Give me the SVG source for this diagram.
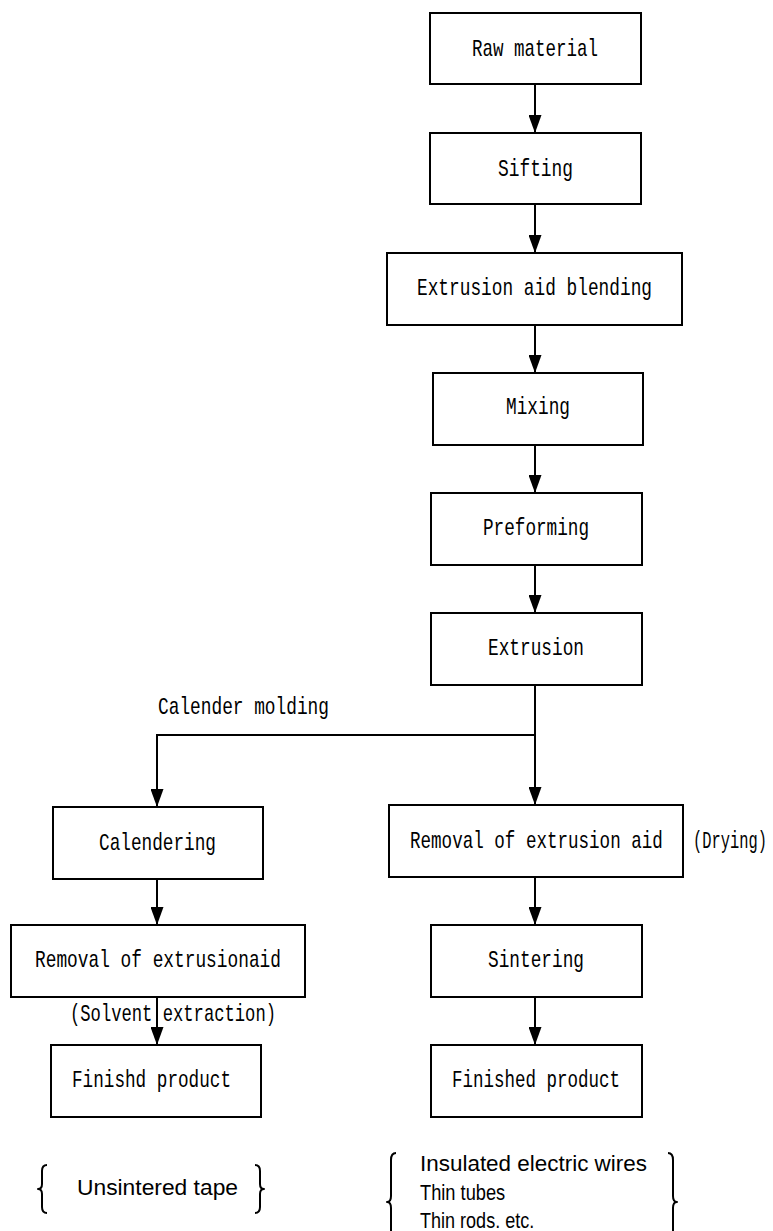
<svg xmlns="http://www.w3.org/2000/svg" width="773" height="1231" viewBox="0 0 773 1231">
<style>
.box{fill:#fff;stroke:#000;stroke-width:2}
.t{font-family:"Liberation Mono","DejaVu Sans Mono",monospace;font-size:24px;fill:#000}
.p{font-family:"Liberation Sans","DejaVu Sans",sans-serif;font-size:22px;fill:#000}
.c{fill:none;stroke:#000;stroke-width:2}
.br{fill:none;stroke:#000;stroke-width:2;stroke-linejoin:round}
</style>
<defs>
<marker id="arr" viewBox="0 0 18 13" refX="18" refY="6.5" markerWidth="18" markerHeight="13" markerUnits="userSpaceOnUse" orient="auto">
<path d="M0,0 L18,6.5 L0,13 z" fill="#000"/>
</marker>
</defs>
<rect width="773" height="1231" fill="#fff"/>
<g id="connectors">
<line class="c" x1="535" y1="84" x2="535" y2="133" marker-end="url(#arr)"/>
<line class="c" x1="535" y1="204" x2="535" y2="253" marker-end="url(#arr)"/>
<line class="c" x1="535" y1="325" x2="535" y2="373" marker-end="url(#arr)"/>
<line class="c" x1="535" y1="445" x2="535" y2="493" marker-end="url(#arr)"/>
<line class="c" x1="535" y1="565" x2="535" y2="613" marker-end="url(#arr)"/>
<line class="c" x1="535" y1="685" x2="535" y2="805" marker-end="url(#arr)"/>
<polyline class="c" points="535,735 157,735 157,807" marker-end="url(#arr)"/>
<line class="c" x1="157" y1="879" x2="157" y2="925" marker-end="url(#arr)"/>
<line class="c" x1="157" y1="997" x2="157" y2="1045" marker-end="url(#arr)"/>
<line class="c" x1="535" y1="877" x2="535" y2="925" marker-end="url(#arr)"/>
<line class="c" x1="535" y1="997" x2="535" y2="1045" marker-end="url(#arr)"/>
</g>
<g id="raw"><rect class="box" x="430" y="13" width="211" height="71"/><text class="t" x="472" y="56" textLength="126" lengthAdjust="spacingAndGlyphs">Raw material</text></g>
<g id="sifting"><rect class="box" x="430" y="133" width="211" height="71"/><text class="t" x="498" y="176" textLength="75" lengthAdjust="spacingAndGlyphs">Sifting</text></g>
<g id="blending"><rect class="box" x="387" y="253" width="295" height="72"/><text class="t" x="417" y="295" textLength="235" lengthAdjust="spacingAndGlyphs">Extrusion aid blending</text></g>
<g id="mixing"><rect class="box" x="433" y="373" width="210" height="72"/><text class="t" x="506" y="414" textLength="64" lengthAdjust="spacingAndGlyphs">Mixing</text></g>
<g id="preforming"><rect class="box" x="431" y="493" width="211" height="72"/><text class="t" x="483" y="535" textLength="106" lengthAdjust="spacingAndGlyphs">Preforming</text></g>
<g id="extrusion"><rect class="box" x="431" y="613" width="211" height="72"/><text class="t" x="488" y="655" textLength="96" lengthAdjust="spacingAndGlyphs">Extrusion</text></g>
<g id="calender-label"><text class="t" x="158" y="714" textLength="171" lengthAdjust="spacingAndGlyphs">Calender molding</text></g>
<g id="calendering"><rect class="box" x="53" y="807" width="210" height="72"/><text class="t" x="99" y="850" textLength="117" lengthAdjust="spacingAndGlyphs">Calendering</text></g>
<g id="removal-left"><rect class="box" x="11" y="925" width="294" height="72"/><text class="t" x="35" y="967" textLength="246" lengthAdjust="spacingAndGlyphs">Removal of extrusionaid</text></g>
<g id="solvent"><text class="t" x="70" y="1021" textLength="206" lengthAdjust="spacingAndGlyphs">(Solvent extraction)</text></g>
<g id="finishd"><rect class="box" x="51" y="1045" width="210" height="72"/><text class="t" x="72" y="1087" textLength="159" lengthAdjust="spacingAndGlyphs">Finishd product</text></g>
<g id="removal-right"><rect class="box" x="389" y="805" width="294" height="72"/><text class="t" transform="translate(410,848) scale(0.732,1)" x="0" y="0">Removal of extrusion aid</text></g>
<g id="drying"><text class="t" transform="translate(693,848) scale(0.642,1)" x="0" y="0">(Drying)</text></g>
<g id="sintering"><rect class="box" x="431" y="925" width="211" height="72"/><text class="t" x="488" y="967" textLength="96" lengthAdjust="spacingAndGlyphs">Sintering</text></g>
<g id="finished"><rect class="box" x="431" y="1045" width="211" height="72"/><text class="t" x="452" y="1087" textLength="168" lengthAdjust="spacingAndGlyphs">Finished product</text></g>
<g id="unsintered">
<path class="br" d="M47,1165 Q42,1165 42,1171 L42,1184 Q42,1189 38,1189 Q42,1189 42,1194 L42,1207 Q42,1213 47,1213"/>
<text class="p" x="77" y="1195" textLength="161" lengthAdjust="spacingAndGlyphs">Unsintered tape</text>
<path class="br" d="M255,1165 Q260,1165 260,1171 L260,1184 Q260,1189 264,1189 Q260,1189 260,1194 L260,1207 Q260,1213 255,1213"/>
</g>
<g id="products">
<path class="br" d="M396,1153 Q391,1153 391,1160 L391,1196 Q391,1202 387,1202 Q391,1202 391,1208 L391,1245"/>
<text class="p" x="420" y="1171" textLength="227" lengthAdjust="spacingAndGlyphs">Insulated electric wires</text>
<text class="p" transform="translate(420,1200) scale(0.83,1)" x="0" y="0">Thin tubes</text>
<text class="p" transform="translate(420,1228) scale(0.82,1)" x="0" y="0">Thin rods. etc.</text>
<path class="br" d="M668,1153 Q673,1153 673,1160 L673,1196 Q673,1202 677,1202 Q673,1202 673,1208 L673,1245"/>
</g>
</svg>
